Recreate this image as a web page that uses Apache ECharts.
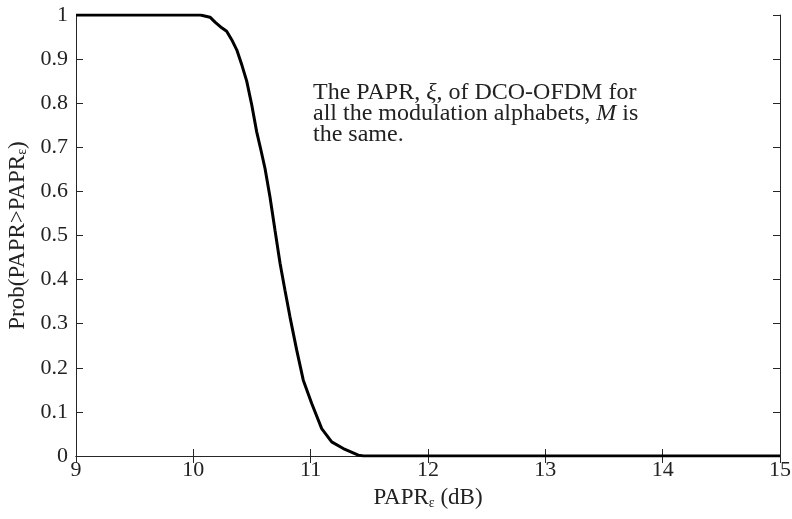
<!DOCTYPE html>
<html>
<head>
<meta charset="utf-8">
<script src="https://cdn.jsdelivr.net/npm/echarts@6/dist/echarts.min.js"></script>
<style>html,body{margin:0;padding:0;background:#fff}#c{width:792px;height:519px}</style>
</head>
<body>
<div id="c"></div>
<script>
var papr = [9.0, 9.5, 9.97, 10.06, 10.142, 10.185, 10.242, 10.284, 10.327, 10.370, 10.413, 10.455, 10.498, 10.540, 10.575, 10.611, 10.653, 10.696, 10.739, 10.781, 10.824, 10.881, 10.937, 11.009, 11.094, 11.179, 11.278, 11.406, 11.45, 12.0, 13.0, 14.0, 15.0];
var prob = [1.0, 1.0, 1.0, 1.0, 0.995, 0.984, 0.971, 0.963, 0.944, 0.921, 0.887, 0.850, 0.796, 0.735, 0.695, 0.652, 0.588, 0.512, 0.437, 0.376, 0.315, 0.240, 0.172, 0.119, 0.062, 0.032, 0.017, 0.002, 0.0, 0.0, 0.0, 0.0, 0.0];
var xTicks = [9, 10, 11, 12, 13, 14, 15];
var yTicks = [0, 0.1, 0.2, 0.3, 0.4, 0.5, 0.6, 0.7, 0.8, 0.9, 1];
var xLabel = ['PAPR', 'ε', ' (dB)'];
var yLabel = ['Prob(PAPR>PAPR', 'ε', ')'];
var noteLines = ['The PAPR, ', 'ξ', ', of DCO-OFDM for', 'all the modulation alphabets, ', 'M', ' is', 'the same.'];

var FONT = '"Liberation Serif", "DejaVu Serif", serif';
var AX = '#262626';
var TXT = '#222';
var chart = echarts.init(document.getElementById('c'), null, {renderer: 'canvas'});
var data = papr.map(function (x, i) { return [x, prob[i]]; });
var fs = 22;
var richName = {
  a: {fontFamily: FONT, fontSize: 23, color: TXT},
  s: {fontFamily: FONT, fontSize: 14, color: TXT, verticalAlign: 'bottom', padding: [10, 0, 0, 0]}
};
function axisCommon(show, margin) {
  return {
    axisLine: {show: true, lineStyle: {color: AX, width: 1}},
    axisTick: {show: true, inside: true, length: 7, lineStyle: {color: AX, width: 1}},
    axisLabel: {show: show, fontFamily: FONT, fontSize: fs, color: TXT, margin: margin},
    splitLine: {show: false}
  };
}
var option = {
  animation: false,
  backgroundColor: '#fff',
  grid: {left: 76, right: 12, top: 15, bottom: 63, containLabel: false, outerBoundsMode: 'none'},
  xAxis: [
    Object.assign({type: 'value', min: xTicks[0], max: xTicks[xTicks.length - 1], interval: 1, position: 'bottom',
      name: '{a|' + xLabel[0] + '}{s|' + xLabel[1] + '}{a|' + xLabel[2] + '}', nameLocation: 'middle', nameGap: 30,
      nameTextStyle: {rich: richName}}, axisCommon(true, 3)),
    Object.assign({type: 'value', min: xTicks[0], max: xTicks[xTicks.length - 1], interval: 1, position: 'top'}, axisCommon(false, 8))
  ],
  yAxis: [
    Object.assign({type: 'value', min: yTicks[0], max: yTicks[yTicks.length - 1], interval: 0.1, position: 'left',
      name: '{a|' + yLabel[0] + '}{s|' + yLabel[1] + '}{a|' + yLabel[2] + '}', nameLocation: 'middle', nameGap: 45, nameRotate: 90,
      nameTextStyle: {rich: richName}}, axisCommon(true, 8)),
    Object.assign({type: 'value', min: yTicks[0], max: yTicks[yTicks.length - 1], interval: 0.1, position: 'right'}, axisCommon(false, 8))
  ],
  series: [{
    type: 'line', data: data, showSymbol: false, symbol: 'none', smooth: false,
    lineStyle: {color: '#000', width: 3}, z: 3, clip: true
  }],
  graphic: [{
    type: 'text', left: 313, top: 81,
    style: {
      text: '{a|' + noteLines[0] + '}{i|' + noteLines[1] + '}{a|' + noteLines[2] + '}\n{a|' + noteLines[3] + '}{i|' + noteLines[4] + '}{a|' + noteLines[5] + '}\n{a|' + noteLines[6] + '}',
      rich: {
        a: {fontFamily: FONT, fontSize: 24, lineHeight: 21, fill: TXT},
        i: {fontFamily: FONT, fontSize: 24, lineHeight: 21, fontStyle: 'italic', fill: TXT}
      }
    }
  }]
};
chart.setOption(option);
</script>
</body>
</html>
